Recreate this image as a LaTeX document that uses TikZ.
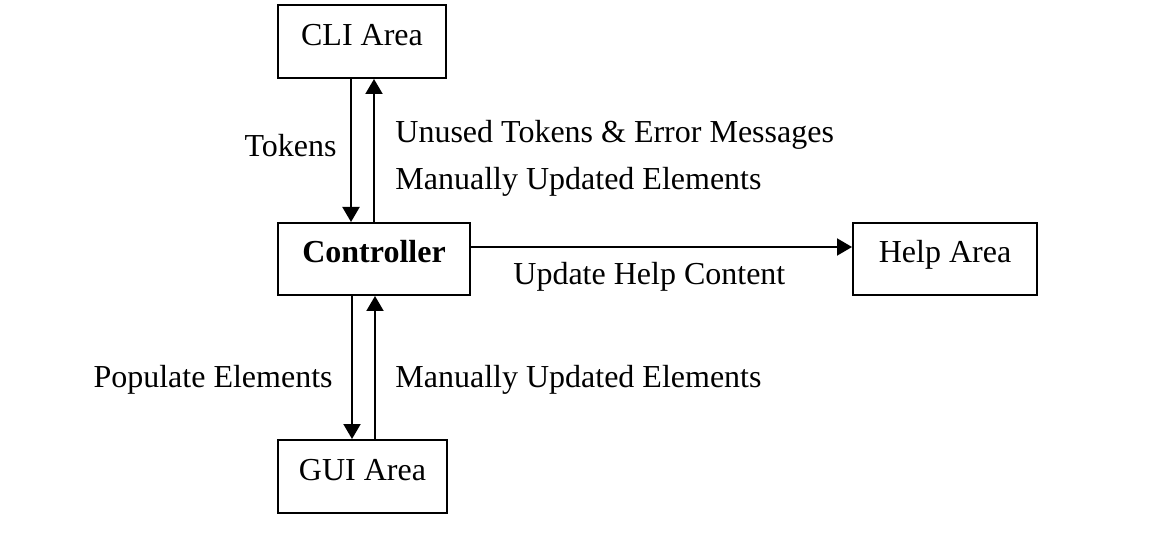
\documentclass[tikz,border=0pt]{standalone}
\usepackage{fontspec}
\setmainfont{Liberation Serif}
\usetikzlibrary{arrows.meta}
\begin{document}
\begin{tikzpicture}[x=0.5pt,y=-0.5pt,
  font=\fontsize{16}{19}\selectfont,
  box/.style={draw,line width=1pt,inner sep=0pt,text height=11pt,text depth=7pt},
  flow/.style={line width=1pt,-{Triangle[length=7.5pt,width=8.5pt]}},
  lbl/.style={inner sep=0pt}]
  \useasboundingbox (0,0) rectangle (1149,550);

  % components
  \node[box,minimum width=84pt,minimum height=36.5pt] (cli) at (362,41.5) {CLI Area};
  \node[box,minimum width=96pt,minimum height=36pt] (ctrl) at (374,259) {\bfseries Controller};
  \node[box,minimum width=92pt,minimum height=36pt] (help) at (945,259) {Help Area};
  \node[box,minimum width=84.5pt,minimum height=36.5pt] (gui) at (362.5,476.5) {GUI Area};

  % connector lanes
  \coordinate (downA) at (351,0);
  \coordinate (upA) at (374,0);
  \coordinate (downB) at (352,0);
  \coordinate (upB) at (375,0);
  \coordinate (side) at (0,247);

  \draw[flow] (cli.south -| downA) -- (ctrl.north -| downA);
  \draw[flow] (ctrl.north -| upA) -- (cli.south -| upA);
  \draw[flow] (ctrl.south -| downB) -- (gui.north -| downB);
  \draw[flow] (gui.north -| upB) -- (ctrl.south -| upB);
  \draw[flow] (ctrl.east |- side) -- (help.west |- side);

  % labels
  \node[lbl,anchor=base east] (tok) at (337,157) {Tokens};
  \node[lbl,anchor=base west] (unused) at (395,143) {Unused Tokens \& Error Messages};
  \node[lbl,anchor=base west] (manA) at (395,190) {Manually Updated Elements};
  \node[lbl,anchor=base west] (upd) at (513,285) {Update Help Content};
  \node[lbl,anchor=base east] (pop) at (333,387) {Populate Elements};
  \node[lbl,anchor=base west] (manB) at (395,387) {Manually Updated Elements};
\end{tikzpicture}
\end{document}
